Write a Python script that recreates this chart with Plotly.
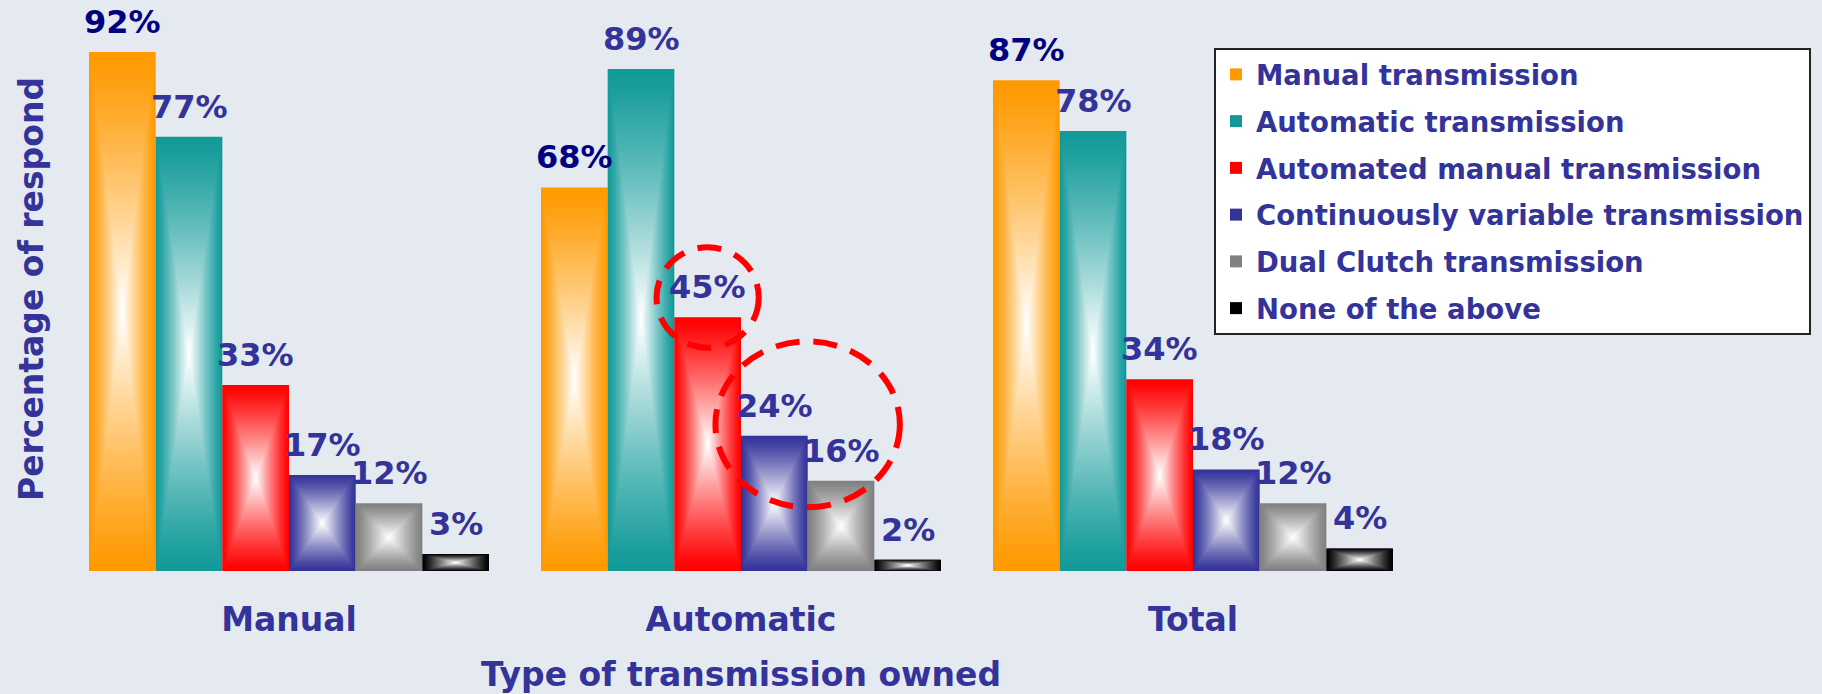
import plotly.graph_objects as go

categories = ["Manual", "Automatic", "Total"]
series_names = [
    "Manual transmission",
    "Automatic transmission",
    "Automated manual transmission",
    "Continuously variable transmission",
    "Dual Clutch transmission",
    "None of the above",
]
manual_trans = [92, 68, 87]
automatic_trans = [77, 89, 78]
automated_manual = [33, 45, 34]
cvt_trans = [17, 24, 18]
dual_clutch = [12, 16, 12]
none_above = [3, 2, 4]
series_values = [manual_trans, automatic_trans, automated_manual, cvt_trans, dual_clutch, none_above]

series_colors = ["#FF9900", "#119A99", "#FF0000", "#333399", "#808080", "#000000"]
label_colors = ["#000080", "#333399", "#333399", "#333399", "#333399", "#333399"]

BG = "#E5EAF0"
TXT = "#333399"
FONT = "DejaVu Sans"
N_LAYERS = 60
BAR_W = 400 / 452 / 6


def mix(hex_col, t):
    # blend toward white, t=0 -> colour, t=1 -> white
    r, g, b = (int(hex_col[i:i + 2], 16) for i in (1, 3, 5))
    r, g, b = (round(c + (255 - c) * t) for c in (r, g, b))
    return f"rgb({r},{g},{b})"


x = list(range(len(categories)))
fig = go.Figure()

# each bar is a stack of shrinking rectangles to fake the box gradient
for i, (name, vals, col) in enumerate(zip(series_names, series_values, series_colors)):
    left = -3 * BAR_W + i * BAR_W
    for k in range(N_LAYERS):
        t = k / N_LAYERS
        w = BAR_W * (1 - t)
        fig.add_trace(go.Bar(
            x=x,
            y=[v * (1 - t) for v in vals],
            base=[v * t / 2 for v in vals],
            width=w,
            offset=left + (BAR_W - w) / 2,
            marker=dict(color=mix(col, (k / (N_LAYERS - 1)) ** 1.2), line=dict(width=0)),
            name=name,
            legendgroup=name,
            showlegend=(k == 0),
            hoverinfo="skip" if k else None,
            hovertemplate=None if k else "%{x}<br>" + name + ": %{y}%<extra></extra>",
        ))
    for c, v in zip(x, vals):
        fig.add_annotation(
            x=c + left + BAR_W / 2, y=v, text=f"{v}%", showarrow=False,
            yanchor="bottom", yshift=9,
            font=dict(family=FONT, size=32, weight="bold", color=label_colors[i]),
        )

# red dashed highlight circles on the Automatic group
cx1 = 1 - 3 * BAR_W + 2.5 * BAR_W
cy1 = automated_manual[1] + 3.5
fig.add_shape(type="circle", xref="x", yref="y",
              x0=cx1 - 0.113, x1=cx1 + 0.113, y0=cy1 - 8.9, y1=cy1 + 8.9,
              line=dict(color="#FF0000", width=6, dash="24px,14px"))
cx2 = 1 - 3 * BAR_W + 4 * BAR_W
cy2 = (cvt_trans[1] + dual_clutch[1]) / 2 + 6
fig.add_shape(type="circle", xref="x", yref="y",
              x0=cx2 - 0.204, x1=cx2 + 0.204, y0=cy2 - 14.7, y1=cy2 + 14.7,
              line=dict(color="#FF0000", width=6, dash="24px,14px"))

fig.update_layout(
    template="none",
    width=1822, height=694,
    margin=dict(l=63, r=403, t=7, b=123, autoexpand=False),
    paper_bgcolor=BG, plot_bgcolor=BG,
    barmode="overlay",
    font=dict(family=FONT, color=TXT),
    xaxis=dict(
        range=[-0.5, 2.5], tickvals=x, ticktext=categories,
        showgrid=False, zeroline=False, showline=False,
        ticks="outside", ticklen=19, tickcolor=BG,
        tickfont=dict(family=FONT, size=33, weight="bold", color=TXT),
        title=dict(text="Type of transmission owned", standoff=27,
                   font=dict(family=FONT, size=33, weight="bold", color=TXT)),
        automargin=False,
    ),
    yaxis=dict(
        range=[0, 100], showticklabels=False, showgrid=False, zeroline=False,
        showline=False, ticks="",
        title=dict(text="Percentage of respond", standoff=8,
                   font=dict(family=FONT, size=33, weight="bold", color=TXT)),
        automargin=False,
    ),
    legend=dict(
        x=(1214 - 63) / 1356, y=(571 - 48) / 564, xanchor="left", yanchor="top",
        bgcolor="white", bordercolor="#222222", borderwidth=2,
        font=dict(family=FONT, size=27.5, weight="bold", color=TXT),
        traceorder="grouped", tracegroupgap=8,
    ),
    showlegend=True,
)

fig.write_html("out.html", config={"displayModeBar": False},
               post_script="document.body.style.margin='0';")
